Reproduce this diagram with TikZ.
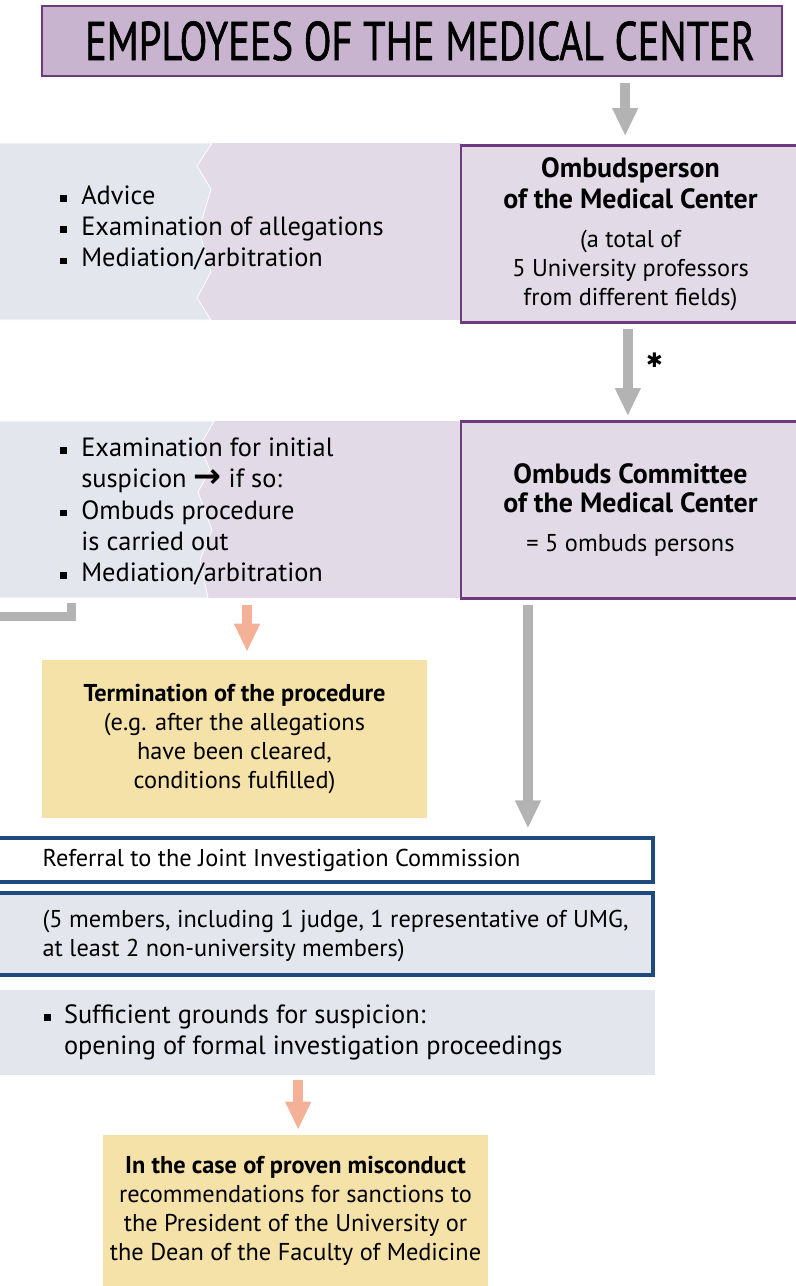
\documentclass[tikz,border=0pt]{standalone}
\usepackage{fontspec}
\setmainfont{PT Sans}
\newfontfamily\titlefont{PT Sans}[FakeStretch=0.74, FakeBold=1]
\newfontfamily\symbfont{DejaVu Sans}
\usetikzlibrary{arrows.meta, positioning}

\definecolor{titlefill}{HTML}{C8B4CF}
\definecolor{plum}{HTML}{6E3B7E}
\definecolor{lilac}{HTML}{E2DAE7}
\definecolor{mist}{HTML}{E4E6EE}
\definecolor{arrowgray}{HTML}{B3B3B3}
\definecolor{salmon}{HTML}{F4B198}
\definecolor{sand}{HTML}{F5E2A8}
\definecolor{navy}{HTML}{1E4A7C}

\newcommand\nrm{\fontsize{18.25}{21.75}\selectfont}
\newcommand\lrg{\fontsize{19.8}{23.5}\selectfont}
\newcommand\hd{\fontsize{20.9}{23.5}\selectfont\bfseries}
\newcommand\sq{\makebox[15.75pt][l]{\rule[2pt]{5pt}{5pt}}}
\newcommand\ind{\makebox[15.75pt]{}}

\begin{document}
\begin{tikzpicture}[x=0.75pt, y=-0.75pt, >=Latex, line join=miter]

% --------- styles ----------
\tikzset{
  titlebox/.style={fill=titlefill, draw=plum, line width=2pt, minimum width=555pt,
    minimum height=52.5pt, inner sep=0pt, font=\titlefont\fontsize{41}{41}\selectfont},
  ombox/.style={fill=lilac, draw=plum, line width=2.2pt, minimum width=254.25pt,
    minimum height=132.75pt, inner sep=0pt, align=center, font=\nrm},
  sandbox/.style={fill=sand, minimum width=288.75pt, inner sep=0pt, align=center, font=\nrm},
  bluebox/.style={draw=navy, line width=2.4pt, minimum width=493.5pt, inner sep=0pt},
  txt/.style={inner sep=0pt, align=left, anchor=west, font=\nrm},
  grayarrow/.style={-{Triangle[width=18pt,length=21pt]}, line width=7.5pt, draw=arrowgray},
  salmonarrow/.style={-{Triangle[width=18pt,length=21pt]}, line width=7.5pt, draw=salmon},
  torn/.style={fill=mist, draw=white, line width=0.6pt}
}

\useasboundingbox (0,0) rectangle (796,1286);

% ===================== title =====================
\node[titlebox] (title) at (412,41) {\hspace*{12pt}EMPLOYEES OF THE MEDICAL CENTER};

% ===================== row 1: ombudsperson =====================
\fill[lilac] (-5,143) rectangle (461,320);
\path[torn] (-5,143) -- (212,143) -- (197,166) -- (211,189) -- (199,230) -- (211,272)
  -- (197,298) -- (211,320) -- (-5,320) -- cycle;
\node[txt, font=\lrg] (list1) at (60,228)
  {\sq Advice\\ \sq Examination of allegations\\ \sq Mediation/arbitration};
\node[ombox] (om1) at (630.5,234)
  {{\hd Ombudsperson}\\[1.5pt]{\hd of the Medical Center}\\[7.5pt]
   (a total of\\5 University professors\\from different fields)};

% ===================== row 2: ombuds committee =====================
\fill[lilac] (-5,421) rectangle (461,598);
\path[torn] (-5,421) -- (214,421) -- (200,446) -- (210,470) -- (198,492) -- (212,530)
  -- (200,560) -- (208,598) -- (-5,598) -- cycle;
\node[txt, font=\lrg] (list2) at (60,511.5)
  {\sq Examination for initial\\ \ind suspicion {\symbfont\bfseries\fontsize{25}{19}\selectfont →} if so:\\
   \sq Ombuds procedure\\ \ind is carried out\\ \sq Mediation/arbitration};
\node[ombox] (om2) at (630.5,510)
  {{\hd Ombuds Committee}\\[0.5pt]{\hd of the Medical Center}\\[7.5pt]= 5 ombuds persons};

% ===================== lower boxes =====================
\node[sandbox, minimum height=118.5pt] (term) at (234.5,739)
  {{\bfseries Termination of the procedure}\\(e.g. after the allegations\\have been cleared,\\conditions fulfilled)};
\node[bluebox, fill=white, minimum height=33pt] (referral) at (324,860) {};
\node[txt, right=36.75pt of referral.west] (referraltxt) {Referral to the Joint Investigation Commission};
\node[bluebox, fill=mist, minimum height=61.5pt] (members) at (324,934) {};
\node[txt, right=36.75pt of members.west, yshift=-1.5pt] (memberstxt)
  {(5 members, including 1 judge, 1 representative of UMG,\\at least 2 non-university members)};
\node[fill=mist, minimum width=495pt, minimum height=63.75pt, inner sep=0pt] (suff) at (325,1032.5) {};
\node[txt, font=\lrg, right=36.75pt of suff.west] (sufftxt)
  {\makebox[15pt][l]{\rule[2pt]{5pt}{5pt}}Sufficient grounds for suspicion:\\
   \makebox[15pt]{}opening of formal investigation proceedings};
\node[sandbox, minimum height=113.25pt] (misc) at (295.5,1210.5)
  {{\bfseries In the case of proven misconduct}\\recommendations for sanctions to\\
   the President of the University or\\the Dean of the Faculty of Medicine};

% ===================== connectors =====================
\draw[grayarrow, shorten <=4.5pt, shorten >=6pt] ([xshift=-4pt]om1.north |- title.south) -- ([xshift=-4pt]om1.north);
\draw[grayarrow, shorten <=3.75pt, shorten >=3pt] ([xshift=-2pt]om1.south) -- ([xshift=-2pt]om2.north)
  node[pos=0.38, right=10pt, inner sep=0pt, font=\symbfont\fontsize{15}{15}\selectfont] (star) {✱};
\draw[grayarrow, shorten <=3.75pt, shorten >=6pt] ([xshift=-76.9pt]om2.south) -- ([xshift=-76.9pt]om2.south |- referral.north);
\draw[salmonarrow, shorten <=3.75pt, shorten >=6pt] ([xshift=9.4pt]term.north |- om2.south) -- ([xshift=9.4pt]term.north);
\draw[salmonarrow, shorten <=3.75pt, shorten >=3.75pt] ([xshift=2pt]misc.north |- suff.south) -- ([xshift=2pt]misc.north);

% back link (leaves the page on the left)
\coordinate (backout) at (-5,616.5);
\coordinate (backin) at (71,603);
\draw[arrowgray, line width=6.75pt] (backout) -| (backin);

\end{tikzpicture}
\end{document}
